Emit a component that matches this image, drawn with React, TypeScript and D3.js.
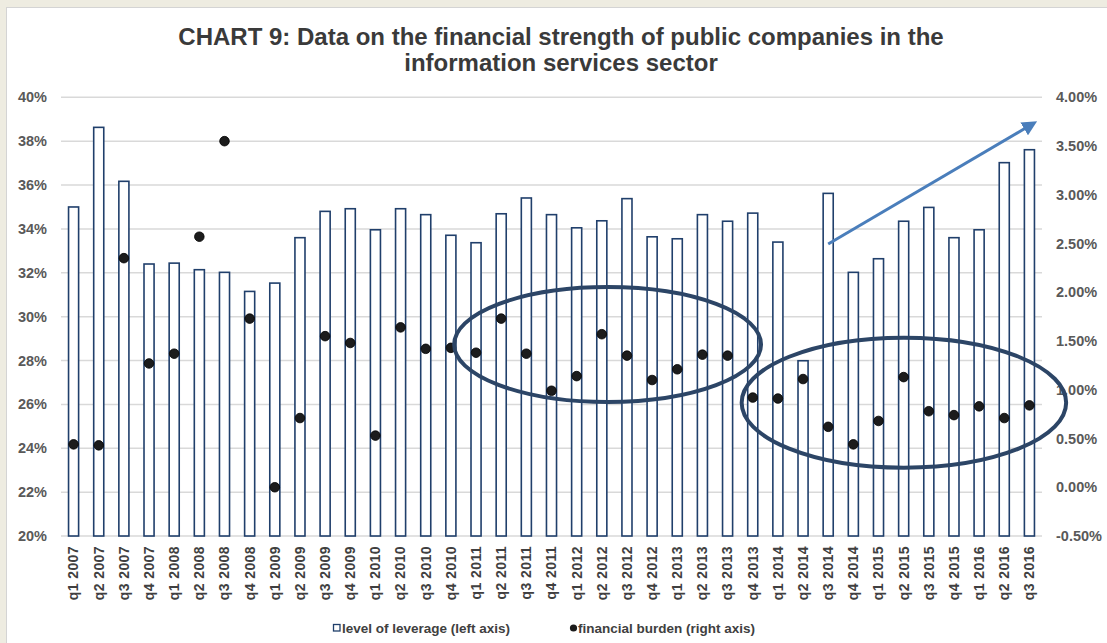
import React from "react";
import * as d3 from "d3";

// Quarterly categories, q1 2007 – q3 2016
const categories = [
  "q1 2007", "q2 2007", "q3 2007", "q4 2007",
  "q1 2008", "q2 2008", "q3 2008", "q4 2008",
  "q1 2009", "q2 2009", "q3 2009", "q4 2009",
  "q1 2010", "q2 2010", "q3 2010", "q4 2010",
  "q1 2011", "q2 2011", "q3 2011", "q4 2011",
  "q1 2012", "q2 2012", "q3 2012", "q4 2012",
  "q1 2013", "q2 2013", "q3 2013", "q4 2013",
  "q1 2014", "q2 2014", "q3 2014", "q4 2014",
  "q1 2015", "q2 2015", "q3 2015", "q4 2015",
  "q1 2016", "q2 2016", "q3 2016",
];

// Level of leverage, % (left axis)
const leverage = [
  35.0, 38.63, 36.17, 32.4,
  32.44, 32.14, 32.02, 31.15,
  31.53, 33.6, 34.8, 34.92,
  33.96, 34.92, 34.65, 33.71,
  33.37, 34.69, 35.41, 34.65,
  34.05, 34.37, 35.38, 33.64,
  33.55, 34.65, 34.35, 34.72,
  33.4, 27.99, 35.62, 32.02,
  32.64, 34.35, 34.98, 33.6,
  33.96, 37.02, 37.61,
];

// Financial burden, % (right axis)
const burden = [
  0.44, 0.43, 2.35, 1.27,
  1.37, 2.57, 3.55, 1.73,
  0.0, 0.71, 1.55, 1.48,
  0.53, 1.64, 1.42, 1.43,
  1.38, 1.73, 1.37, 0.99,
  1.14, 1.57, 1.35, 1.1,
  1.21, 1.36, 1.35, 0.92,
  0.91, 1.11, 0.62, 0.44,
  0.68, 1.13, 0.78, 0.74,
  0.83, 0.71, 0.84,
];

const leftTicks = [20, 22, 24, 26, 28, 30, 32, 34, 36, 38, 40];
const rightTicks = [-0.5, 0, 0.5, 1, 1.5, 2, 2.5, 3, 3.5, 4];

// Highlight ellipses, in category-index units (x) and right-axis % (y)
const ellipses = [
  { x0: 15.63, x1: 27.83, y0: 0.875, y1: 2.054 },
  { x0: 27.06, x1: 39.96, y0: 0.201, y1: 1.534 },
];
// Trend arrow, category-index (x) and left-axis % (y)
const trendArrow = { x0: 30.5, y0: 33.31, x1: 38.6, y1: 38.77 };

const W = 1107;
const H = 643;
const M = { left: 61, right: 1042, top: 97.3, bottom: 536 };

export default function App() {
  const x = d3
    .scaleBand<string>()
    .domain(categories)
    .range([M.left, M.right])
    .paddingInner(0.6)
    .paddingOuter(0.3);
  const xi = d3.scaleLinear().domain([0, categories.length]).range([M.left, M.right]);
  const yL = d3.scaleLinear().domain([20, 40]).range([M.bottom, M.top]);
  const yR = d3.scaleLinear().domain([-0.5, 4]).range([M.bottom, M.top]);
  const bw = x.bandwidth();
  const cx = (c: string) => (x(c) ?? 0) + bw / 2;

  const font = "'Liberation Sans', Arial, sans-serif";
  const navy = "#203f6b";

  return (
    <svg
      width={W}
      height={H}
      style={{ position: "absolute", left: 0, top: 0, fontFamily: font }}
    >
      <defs>
        <marker
          id="arrowhead"
          viewBox="0 0 10 10"
          refX="6"
          refY="5"
          markerWidth="5"
          markerHeight="5"
          orient="auto"
        >
          <path d="M0,0 L10,5 L0,10 z" fill="#4a7ebb" />
        </marker>
      </defs>
      <rect x={0} y={0} width={W} height={H} fill="#eeece1" />
      <rect x={6.5} y={7.5} width={W} height={H} fill="#ffffff" stroke="#d4d4d4" />

      {/* title */}
      <text x={561} y={45} textAnchor="middle" fontSize={24} fontWeight="bold" fill="#3a3a3a">
        CHART 9: Data on the financial strength of public companies in the
      </text>
      <text x={561} y={71} textAnchor="middle" fontSize={24} fontWeight="bold" fill="#3a3a3a">
        information services sector
      </text>

      {/* gridlines */}
      {leftTicks.map((t) => (
        <line
          key={t}
          x1={M.left}
          x2={M.right}
          y1={yL(t)}
          y2={yL(t)}
          stroke="#d9d9d9"
          strokeWidth={1.5}
        />
      ))}

      {/* left axis labels */}
      {leftTicks.map((t) => (
        <text
          key={t}
          x={47}
          y={yL(t)}
          dy="0.35em"
          textAnchor="end"
          fontSize={14.5}
          fontWeight="bold"
          fill="#595959"
        >
          {`${t}%`}
        </text>
      ))}

      {/* right axis labels */}
      {rightTicks.map((t) => (
        <text
          key={t}
          x={1056}
          y={yR(t)}
          dy="0.35em"
          textAnchor="start"
          fontSize={14.5}
          fontWeight="bold"
          fill="#595959"
        >
          {`${t.toFixed(2)}%`}
        </text>
      ))}

      {/* leverage bars */}
      {categories.map((c, i) => (
        <rect
          key={c}
          x={x(c)}
          y={yL(leverage[i])}
          width={bw}
          height={yL(20) - yL(leverage[i])}
          fill="#ffffff"
          stroke={navy}
          strokeWidth={1.6}
        />
      ))}

      {/* financial burden points */}
      {categories.map((c, i) => (
        <circle
          key={c}
          cx={cx(c)}
          cy={yR(burden[i])}
          r={4.8}
          fill="#1c1c1c"
          stroke="#000000"
          strokeWidth={0.8}
        />
      ))}

      {/* x labels */}
      {categories.map((c) => (
        <text
          key={c}
          transform={`translate(${cx(c)},546) rotate(-90)`}
          dy="0.35em"
          textAnchor="end"
          fontSize={14}
          fontWeight="bold"
          letterSpacing={0.4}
          fill="#404040"
        >
          {c}
        </text>
      ))}

      {/* annotations */}
      {ellipses.map((e, i) => (
        <ellipse
          key={i}
          cx={(xi(e.x0) + xi(e.x1)) / 2}
          cy={(yR(e.y0) + yR(e.y1)) / 2}
          rx={(xi(e.x1) - xi(e.x0)) / 2}
          ry={(yR(e.y0) - yR(e.y1)) / 2}
          fill="none"
          stroke="#2c4566"
          strokeWidth={4}
        />
      ))}
      <line
        x1={xi(trendArrow.x0)}
        y1={yL(trendArrow.y0)}
        x2={xi(trendArrow.x1)}
        y2={yL(trendArrow.y1)}
        stroke="#4a7ebb"
        strokeWidth={3}
        markerEnd="url(#arrowhead)"
      />

      {/* legend */}
      <rect x={333.5} y={624.5} width={6.5} height={6.5} fill="#ffffff" stroke={navy} strokeWidth={1.3} />
      <text x={342} y={633} fontSize={13.5} fontWeight="bold" fill="#404040">
        level of leverage (left axis)
      </text>
      <circle cx={573.5} cy={628} r={3.6} fill="#1c1c1c" />
      <text x={578} y={633} fontSize={13.5} fontWeight="bold" fill="#404040">
        financial burden (right axis)
      </text>
    </svg>
  );
}
